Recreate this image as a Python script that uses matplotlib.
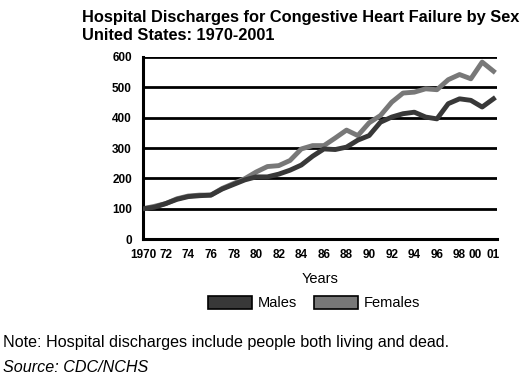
import numpy as np
import matplotlib.pyplot as plt
from matplotlib.patches import Patch

plt.rcParams['font.family'] = ['Liberation Sans', 'DejaVu Sans']

# 数据 (千次出院)
years = list(range(1970, 2002))
males = [100, 105, 117, 131, 140, 143, 145, 165, 180, 195,
         205, 205, 214, 227, 244, 273, 297, 295, 303, 326,
         341, 385, 402, 413, 418, 402, 396, 446, 462, 457,
         435, 462]
females = [100, 108, 117, 133, 142, 145, 145, 167, 183, 199,
           221, 239, 242, 259, 297, 308, 308, 333, 359, 341,
           383, 407, 451, 481, 484, 495, 492, 525, 542, 528,
           583, 553]
tick_years = list(range(1970, 2000, 2)) + [2000, 2001]
tick_labels = ['1970'] + [str(y)[2:] for y in range(1972, 2000, 2)] + ['00', '01']
yticks = [0, 100, 200, 300, 400, 500, 600]

fig = plt.figure(figsize=(5.28, 3.82), dpi=100)
ax = fig.add_axes([0.271, 0.374, 0.670, 0.477])

for yv in yticks[1:]:
    ax.axhline(yv, color='black', lw=2, zorder=1)

ax.plot(years, males, color='#383838', lw=3.5, zorder=3)
ax.plot(years, females, color='#787878', lw=3.5, zorder=2)

ax.set_xlim(1970, 2001.3)
ax.set_ylim(0, 600)
ax.set_yticks(yticks)
ax.set_xticks(tick_years)
ax.set_xticklabels(tick_labels)
ax.tick_params(axis='x', length=0, labelsize=8.5, pad=7)
ax.tick_params(axis='y', length=0, labelsize=8.5, pad=8)
for lbl in ax.get_xticklabels() + ax.get_yticklabels():
    lbl.set_fontweight('bold')
# 00 往左靠一点, 跟参考图一样挤在一起但不重叠
ax.get_xticklabels()[-2].set_ha('right')
for s in ['top', 'right']:
    ax.spines[s].set_visible(False)
for s in ['left', 'bottom']:
    ax.spines[s].set_linewidth(2.2)
ax.set_xlabel('Years', fontsize=10.5, labelpad=8)

fig.text(0.155, 0.975, 'Hospital Discharges for Congestive Heart Failure by Sex',
         fontsize=11.8, fontweight='bold', va='top')
fig.text(0.155, 0.928, 'United States: 1970-2001',
         fontsize=11.8, fontweight='bold', va='top')

handles = [Patch(facecolor='#383838', edgecolor='black', lw=1.2, label='Males'),
           Patch(facecolor='#787878', edgecolor='black', lw=1.2, label='Females')]
fig.legend(handles=handles, loc='center', bbox_to_anchor=(0.595, 0.207), ncol=2,
           frameon=False, fontsize=10.5, handlelength=3.0, handleheight=1.0,
           columnspacing=1.2, handletextpad=0.4)

fig.text(0.005, 0.104, 'Note: Hospital discharges include people both living and dead.',
         fontsize=11.6, va='center')
fig.text(0.005, 0.038, 'Source: CDC/NCHS', fontsize=11.6, style='italic', va='center')

fig.savefig('out.png', dpi=100)
